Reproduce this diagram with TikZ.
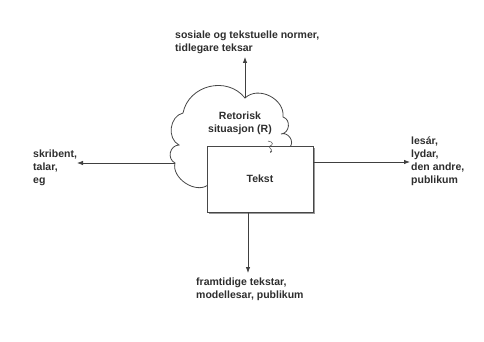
\documentclass[tikz,border=0pt]{standalone}
\usepackage{fontspec}
\setmainfont{Liberation Sans}
\usetikzlibrary{arrows.meta}
\begin{document}
\begin{tikzpicture}[x=1pt,y=-1pt,
  lbl/.style={font=\bfseries\fontsize{10.5}{13}\selectfont, text=black!82,
              align=left, inner sep=0pt},
  arr/.style={draw=black!75, line width=0.8pt, -{Latex[length=6pt,width=4.5pt]}},
  outline/.style={draw=black!72, line width=0.8pt, fill=white},
  textbox/.style={outline, minimum width=106pt, minimum height=66pt, inner sep=0pt}]
\useasboundingbox[fill=white] (0,0) rectangle (484,342);

% rhetorical situation: cloud outline, lower right part hidden by the text box
\path[outline] (208,185) to[bend left=70] (175,163)
  to[bend left=75, looseness=1.3] (179,145)
  to[bend left=70, looseness=1.1] (183,113)
  to[bend left=65, looseness=1.15] (245,98)
  to[bend left=70, looseness=1.1] (283,117)
  to[bend left=80, looseness=1.3] (281,134)
  to[bend left=75, looseness=1.2] (290,147) -- (290,170) -- (210,182) -- cycle;
\node[lbl, align=center, anchor=center] (sit) at (240,123) {Retorisk\\situasjon (R)};
\coordinate (ctop) at (245,98);
\coordinate (cleft) at (175,163);

% text box with its drop shadow
\fill[black!40] (209,148) rectangle (314.5,213.5);
\node[textbox] (tekst) at (260,179) {};
\node[lbl, anchor=center] (tekstlbl) at (tekst.center) {Tekst};

% small curled mark where cloud and box meet
\draw[black!70, line width=0.5pt, -{Latex[length=2.2pt,width=2pt]}]
  (268,141) .. controls (274,142) and (273,145) .. (270,146)
  .. controls (267,147) and (273,149) .. (270,153);

% surrounding labels
\node[lbl, anchor=north west] (norms) at (175,31) {sosiale og tekstuelle normer,\\tidlegare teksar};
\node[lbl, anchor=north west] (writer) at (33,150) {skribent,\\talar,\\eg};
\node[lbl, anchor=north west] (readers) at (411,137) {lesár,\\lydar,\\den andre,\\publikum};
\node[lbl, anchor=north west] (future) at (196,278) {framtidige tekstar,\\modellesar, publikum};

% arrow end points
\coordinate (tEnd) at (245,57);
\coordinate (lEnd) at (77,163);
\coordinate (rEnd) at (410,162);
\coordinate (bEnd) at (248,273);

% connectors
\draw[arr] (ctop) -- (tEnd);
\draw[arr] (cleft) -- (lEnd);
\draw[arr] (tekst.east |- rEnd) -- (rEnd);
\draw[arr] (tekst.south -| bEnd) -- (bEnd);
\end{tikzpicture}
\end{document}
